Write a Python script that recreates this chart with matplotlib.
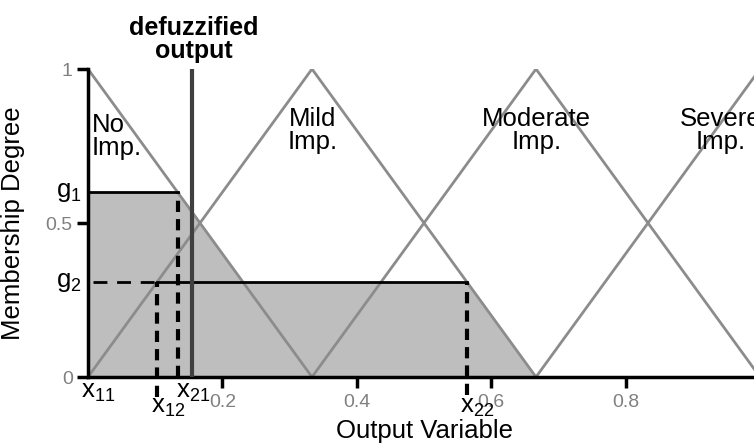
import numpy as np
import matplotlib
matplotlib.use("Agg")
import matplotlib.pyplot as plt

plt.rcParams['font.family'] = ['Liberation Sans', 'DejaVu Sans']
plt.rcParams['mathtext.fontset'] = 'custom'
plt.rcParams['mathtext.rm'] = 'Liberation Sans'
plt.rcParams['mathtext.it'] = 'Liberation Sans'

# membership functions (triangles): left foot, peak, right foot
set_names = ["No\nImp.", "Mild\nImp.", "Moderate\nImp.", "Severe\nImp."]
set_peaks = [0.0, 1 / 3, 2 / 3, 1.0]
half_width = 1 / 3

# rule firing strengths and defuzzified value
g_values = [0.6, 0.31]
g_names = ["g$_1$", "g$_2$"]
defuzz = 0.155

xticks = [0.2, 0.4, 0.6, 0.8]
yticks = [0, 0.5, 1]
ytick_labels = ["0", "0.5", "1"]

tri_color = "#8c8c8c"
fill_color = "#bebebe"

fig = plt.figure(figsize=(7.54, 4.45), dpi=100)
ax = fig.add_axes([88 / 754, 68 / 445, 672 / 754, 308 / 445])


def tri(x, peak):
    return np.clip(1 - np.abs(x - peak) / half_width, 0, None)


# x positions where clipping levels meet the slopes
x11 = 0.0
x21 = set_peaks[0] + half_width * (1 - g_values[0])
x12 = set_peaks[1] - half_width * (1 - g_values[1])
x22 = set_peaks[1] + half_width * (1 - g_values[1])

# shaded aggregate area
xs = np.linspace(0, set_peaks[2], 400)
agg = np.maximum(np.minimum(tri(xs, set_peaks[0]), g_values[0]),
                 np.minimum(tri(xs, set_peaks[1]), g_values[1]))
ax.fill_between(xs, 0, agg, color=fill_color, lw=0, zorder=1)

# triangles
for p in set_peaks:
    ax.plot([p - half_width, p, p + half_width], [0, 1, 0], color=tri_color,
            lw=2, zorder=2)

# clipping lines
vdash = (0, (2.7, 1.7))
ax.plot([0, x21], [g_values[0], g_values[0]], color="black", lw=2, zorder=3)
ax.plot([x12, x22], [g_values[1], g_values[1]], color="black", lw=2, zorder=3)
ax.plot([0.008, x12], [g_values[1], g_values[1]], color="black", lw=2,
        ls=(0, (5, 3.5)), zorder=3)
ax.plot([x21, x21], [0, g_values[0]], color="black", lw=3, ls=vdash, zorder=3)
ax.plot([x12, x12], [-0.065, g_values[1]], color="black", lw=3,
        ls=vdash, zorder=3, clip_on=False)
ax.plot([x22, x22], [-0.06, g_values[1]], color="black", lw=3,
        ls=vdash, zorder=3, clip_on=False)

# defuzzified output
ax.plot([defuzz, defuzz], [0, 1], color="#404040", lw=3, zorder=4)
ax.text(defuzz + 0.003, 1.02, "defuzzified\noutput", ha="center", va="bottom",
        fontsize=18, fontweight="bold", linespacing=0.95)

# set labels
ax.text(0.006, 0.78, set_names[0], ha="left", va="center", fontsize=18.5, linespacing=0.95)
for name, p in zip(set_names[1:], set_peaks[1:]):
    xpos = p + 0.001 if p < 1 else 0.942
    ax.text(xpos, 0.80, name, ha="center", va="center", fontsize=18.5,
            linespacing=0.95, multialignment="center")

# axes style
ax.set_xlim(0, 1)
ax.set_ylim(0, 1)
for s in ["top", "right"]:
    ax.spines[s].set_visible(False)
for s in ["left", "bottom"]:
    ax.spines[s].set_linewidth(2.5)
    ax.spines[s].set_color("black")
ax.set_xticks(xticks)
ax.set_xticklabels([f"{t:g}" for t in xticks])
ax.set_yticks(yticks)
ax.set_yticklabels(ytick_labels)
ax.tick_params(axis="both", length=8, width=2.5, color="black",
               labelcolor="#808080", labelsize=14)
ax.tick_params(axis="x", pad=4)
ax.tick_params(axis="y", pad=3)

# g labels on y axis
for g, lab in zip(g_values, g_names):
    ax.text(-0.01, g, lab, ha="right", va="center", fontsize=18.5)

# x labels under axis
xlab_kw = dict(fontsize=18.5, va="top")
ax.text(x11 - 0.01, -0.01, "x$_{11}$", ha="left", **xlab_kw)
ax.text(x12 - 0.01, -0.06, "x$_{12}$", ha="left", **xlab_kw)
ax.text(x21 - 0.002, -0.01, "x$_{21}$", ha="left", **xlab_kw)
ax.text(x22 - 0.01, -0.06, "x$_{22}$", ha="left", **xlab_kw)

ax.set_xlabel("Output Variable", fontsize=18.5, labelpad=6)
ax.set_ylabel("Membership Degree", fontsize=18.5)
ax.yaxis.set_label_coords(-0.094, 0.5)

fig.savefig("out.png", dpi=100)
